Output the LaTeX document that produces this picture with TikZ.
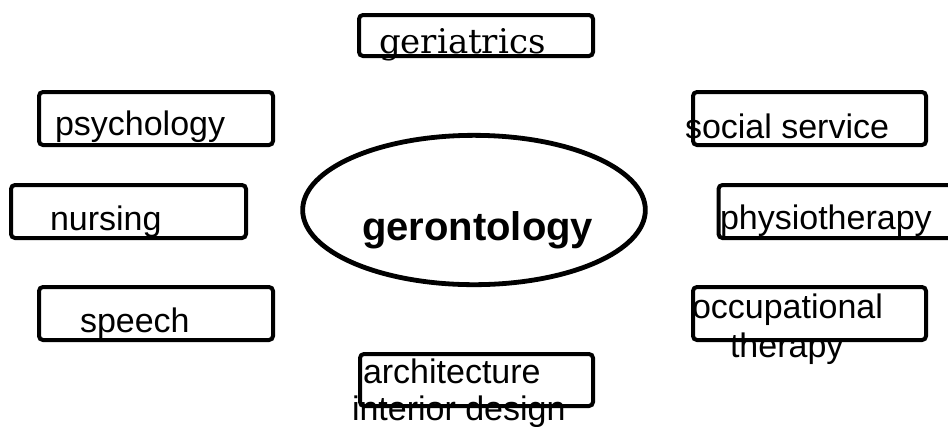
\documentclass[tikz,border=0pt]{standalone}
\usepackage{fontspec}
\setmainfont{Liberation Sans}
\newfontfamily\seriffam{DejaVu Serif}
\usetikzlibrary{shapes.geometric}
\tikzset{
  box/.style={draw, line width=3pt, rounded corners=3pt, inner sep=0pt, outer sep=0pt,
    minimum width=175.5pt, minimum height=39.75pt},
  lbl/.style={inner sep=0pt, outer sep=0pt, anchor=base west, font=\fontsize{25.5pt}{29pt}\selectfont},
}
\begin{document}
\begin{tikzpicture}[x=0.75pt, y=-0.75pt]
\useasboundingbox (0,0) rectangle (948,426);
% boxes
\node[box, minimum height=30.75pt] (geri) at (476,35.5) {};
\node[box] (psych) at (156,118.5) {};
\node[box, minimum width=176.25pt] (nurs) at (128.5,211.5) {};
\node[box] (speech) at (156,313.5) {};
\node[box, minimum width=174.75pt] (social) at (809.5,118.5) {};
\node[box, minimum width=176.25pt] (physio) at (836,211.5) {};
\node[box, minimum width=174.75pt] (occ) at (809.5,313.5) {};
\node[box, minimum width=174.75pt, minimum height=39pt] (arch) at (476.5,380) {};
% centre ellipse
\node[draw, ellipse, line width=3.6pt, inner sep=0pt, minimum width=257pt, minimum height=112pt] (geron) at (474,210) {};
% texts
\node[lbl, font=\seriffam\fontsize{25.5pt}{29pt}\selectfont] (tgeri) at (379,53) {geriatrics};
\node[lbl] (tpsych) at (55,135) {psychology};
\node[lbl] (tnurs) at (50,230) {nursing};
\node[lbl] (tspeech) at (80,332) {speech};
\node[lbl] (tsocial) at (685,138) {social service};
\node[lbl] (tphysio) at (720,229) {physiotherapy};
\node[lbl] (tocc1) at (692,318) {occupational};
\node[lbl] (tocc2) at (730,357) {therapy};
\node[lbl, font=\bfseries\fontsize{30pt}{34pt}\selectfont] (tgeron) at (362,240) {gerontology};
\node[lbl] (tarch1) at (363,383) {architecture};
\node[lbl] (tarch2) at (352,420) {interior design};
\end{tikzpicture}
\end{document}
